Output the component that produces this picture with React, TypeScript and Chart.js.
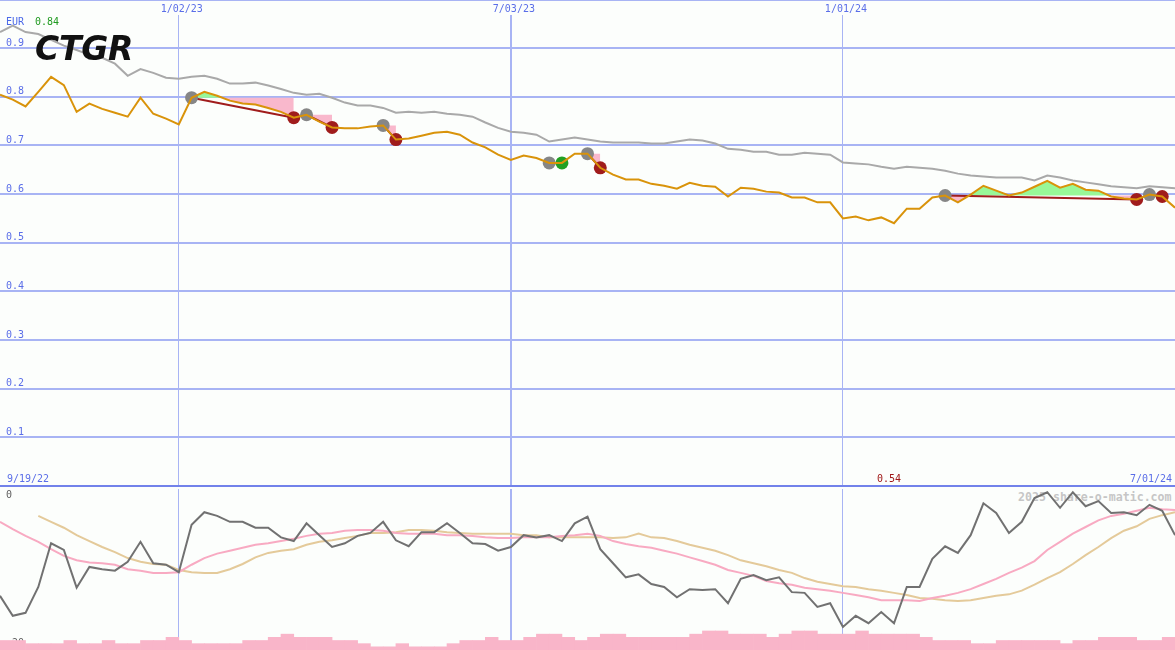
import React, { useEffect, useRef } from 'react';
import { Chart, registerables } from 'chart.js';

Chart.register(...registerables);

const MONO = "'DejaVu Sans Mono', monospace";
const BG = '#fcfefc';

// weekly points: week 1 = 26 Sep 2022 ... week 93 = 1 Jul 2024
const weekNumbers: number[] = Array.from({ length: 93 }, (_, i) => i + 1);

const priceEur = [
  0.804, 0.794, 0.780, 0.810, 0.841, 0.824, 0.769, 0.786, 0.775, 0.767,
  0.759, 0.798, 0.765, 0.755, 0.743, 0.798, 0.810, 0.802, 0.792, 0.786,
  0.784, 0.777, 0.769, 0.757, 0.763, 0.749, 0.737, 0.735, 0.735, 0.739,
  0.741, 0.712, 0.714, 0.720, 0.726, 0.728, 0.722, 0.706, 0.696, 0.681,
  0.670, 0.679, 0.674, 0.664, 0.664, 0.683, 0.683, 0.654, 0.640, 0.630,
  0.630, 0.621, 0.617, 0.611, 0.623, 0.617, 0.615, 0.595, 0.613, 0.611,
  0.605, 0.603, 0.593, 0.593, 0.583, 0.583, 0.550, 0.554, 0.546, 0.552,
  0.540, 0.570, 0.570, 0.593, 0.597, 0.583, 0.599, 0.617, 0.607, 0.597,
  0.603, 0.615, 0.627, 0.613, 0.621, 0.609, 0.607, 0.595, 0.591, 0.589,
  0.599, 0.595, 0.572,
];

const indexLine = [
  0.933, 0.946, 0.933, 0.929, 0.917, 0.905, 0.896, 0.886, 0.880, 0.868,
  0.843, 0.857, 0.849, 0.839, 0.837, 0.841, 0.843, 0.837, 0.827, 0.827,
  0.829, 0.823, 0.816, 0.808, 0.804, 0.806, 0.798, 0.788, 0.782, 0.782,
  0.777, 0.767, 0.769, 0.767, 0.769, 0.765, 0.763, 0.759, 0.747, 0.736,
  0.728, 0.726, 0.722, 0.708, 0.712, 0.716, 0.712, 0.708, 0.706, 0.706,
  0.706, 0.704, 0.704, 0.708, 0.712, 0.710, 0.704, 0.693, 0.691, 0.687,
  0.687, 0.681, 0.681, 0.685, 0.683, 0.681, 0.665, 0.663, 0.661, 0.656,
  0.652, 0.656, 0.654, 0.652, 0.648, 0.642, 0.638, 0.636, 0.634, 0.634,
  0.634, 0.628, 0.638, 0.634, 0.628, 0.624, 0.620, 0.616, 0.614, 0.612,
  0.616, 0.614, 0.612,
];

const momentum = [
  -14.3, -17.0, -16.6, -13.1, -7.2, -8.1, -13.2, -10.4, -10.7, -10.9,
  -9.7, -7.0, -9.9, -10.1, -11.1, -4.7, -3.0, -3.5, -4.3, -4.3,
  -5.1, -5.1, -6.4, -6.9, -4.5, -6.1, -7.7, -7.2, -6.2, -5.8,
  -4.3, -6.8, -7.6, -5.7, -5.7, -4.5, -5.8, -7.2, -7.3, -8.2,
  -7.7, -6.1, -6.4, -6.1, -6.9, -4.5, -3.6, -8.0, -9.9, -11.8,
  -11.4, -12.7, -13.1, -14.5, -13.4, -13.5, -13.4, -15.3, -12.0, -11.5,
  -12.2, -11.8, -13.8, -13.9, -15.8, -15.3, -18.5, -17.0, -18.0, -16.5,
  -18.0, -13.1, -13.1, -9.3, -7.6, -8.5, -6.1, -1.8, -3.1, -5.8,
  -4.3, -1.1, -0.3, -2.4, -0.3, -2.2, -1.5, -3.1, -3.0, -3.4,
  -2.0, -2.8, -6.1,
];

const momentumFast = [
  -4.3, -5.3, -6.2, -7.0, -8.0, -8.9, -9.5, -9.8, -9.9, -10.1,
  -10.7, -10.9, -11.2, -11.2, -11.1, -10.1, -9.2, -8.6, -8.2, -7.8,
  -7.4, -7.2, -6.9, -6.6, -6.2, -5.9, -5.8, -5.5, -5.4, -5.4,
  -5.5, -5.8, -5.9, -5.9, -5.9, -6.1, -6.1, -6.2, -6.4, -6.5,
  -6.5, -6.4, -6.4, -6.4, -6.2, -6.1, -5.9, -6.2, -6.9, -7.3,
  -7.6, -7.8, -8.2, -8.6, -9.1, -9.6, -10.1, -10.8, -11.2, -11.6,
  -12.3, -12.6, -12.8, -13.2, -13.4, -13.6, -13.9, -14.2, -14.5, -14.9,
  -14.9, -14.9, -15.0, -14.6, -14.3, -13.9, -13.4, -12.7, -12.0, -11.2,
  -10.5, -9.6, -8.1, -7.0, -5.9, -5.0, -4.1, -3.5, -3.2, -2.8,
  -2.4, -2.6, -2.7,
];

const momentumSlow = [
  null, null, null, -3.5, -4.3, -5.1, -6.1, -6.9, -7.7, -8.4,
  -9.2, -9.7, -10.0, -10.1, -10.8, -11.1, -11.2, -11.2, -10.7, -10.0,
  -9.1, -8.5, -8.2, -8.0, -7.4, -7.0, -6.8, -6.5, -6.2, -5.8,
  -5.8, -5.7, -5.4, -5.4, -5.5, -5.7, -5.8, -5.9, -5.9, -5.9,
  -5.9, -6.1, -6.1, -6.4, -6.4, -6.4, -6.4, -6.4, -6.5, -6.4,
  -5.9, -6.4, -6.5, -6.9, -7.4, -7.8, -8.2, -8.8, -9.5, -9.9,
  -10.3, -10.8, -11.2, -11.9, -12.4, -12.7, -13.0, -13.1, -13.4, -13.6,
  -13.9, -14.2, -14.6, -14.7, -14.9, -15.0, -14.9, -14.6, -14.3, -14.1,
  -13.6, -12.8, -11.9, -11.1, -10.0, -8.8, -7.7, -6.5, -5.5, -4.9,
  -3.9, -3.4, -3.0,
];

// relative volume per week interval (week k .. k+1), weeks 1..92
const volumeLevel = [
  3, 3, 2, 2, 2, 3, 2, 2, 3, 2,
  2, 3, 3, 4, 3, 2, 2, 2, 2, 3,
  3, 4, 5, 4, 4, 4, 3, 3, 2, 1,
  1, 2, 1, 1, 1, 2, 3, 3, 4, 3,
  3, 4, 5, 5, 4, 3, 4, 5, 5, 4,
  4, 4, 4, 4, 5, 6, 6, 5, 5, 5,
  4, 5, 6, 6, 5, 5, 5, 6, 5, 5,
  5, 5, 4, 3, 3, 3, 2, 2, 3, 3,
  3, 3, 3, 2, 3, 3, 4, 4, 4, 3,
  3, 4,
];

const tradeEntryWeeks = [16, 25, 31, 44, 47, 75, 91];
const tradeExitWeeks = [24, 27, 32, 45, 48, 90, 92];

const xTickWeeks = [15, 41, 67];
const xTickLabels = ['1/02/23', '7/03/23', '1/01/24'];
const priceTicks = [0, 0.1, 0.2, 0.3, 0.4, 0.5, 0.6, 0.7, 0.8, 0.9];
const momentumTicks = [0, -20];

const GRID = '#a8b4f4';
const PINK_FILL = '#f9b8cc';
const GREEN_FILL = '#98f898';
const LOSS = '#a01c1c';
const WIN = '#22a022';

const priceAt = (w: number) => priceEur[weekNumbers.indexOf(w)];
const vGridWidth = (c: any) => (c.tick && c.tick.value === 41 ? 2 : 1);

function topConfig(): any {
  const priceData = weekNumbers.map((w, i) => ({ x: w, y: priceEur[i] }));
  const indexData = weekNumbers.map((w, i) => ({ x: w, y: indexLine[i] }));
  const isWin = tradeEntryWeeks.map((e, i) => priceAt(tradeExitWeeks[i]) >= priceAt(e));

  const levelSets = tradeEntryWeeks.map((e, i) => {
    const x = tradeExitWeeks[i];
    const level = priceAt(e);
    return {
      label: 'level' + i,
      data: weekNumbers.filter((w) => w >= e && w <= x).map((w) => ({ x: w, y: level })),
      borderWidth: 0,
      borderColor: 'rgba(0,0,0,0)',
      pointRadius: 0,
      fill: { target: 0, above: PINK_FILL, below: GREEN_FILL },
      order: 6,
    };
  });
  const lineSets = tradeEntryWeeks.map((e, i) => ({
    label: 'trade' + i,
    data: [
      { x: e, y: priceAt(e) },
      { x: tradeExitWeeks[i], y: priceAt(tradeExitWeeks[i]) },
    ],
    borderColor: isWin[i] ? WIN : LOSS,
    borderWidth: 2,
    pointRadius: 0,
    fill: false,
    order: 5,
  }));

  return {
    type: 'line',
    data: {
      datasets: [
        {
          label: 'CTGR',
          data: priceData,
          borderColor: '#d9930a',
          borderWidth: 2,
          pointRadius: 0,
          fill: false,
          order: 0,
        },
        {
          label: 'index',
          data: indexData,
          borderColor: '#a9a9a9',
          borderWidth: 2,
          pointRadius: 0,
          fill: false,
          order: 1,
        },
        {
          label: 'exits',
          data: tradeExitWeeks.map((w) => ({ x: w, y: priceAt(w) })),
          showLine: false,
          pointRadius: 6.5,
          pointBorderWidth: 0,
          pointBackgroundColor: isWin.map((v) => (v ? WIN : LOSS)),
          fill: false,
          order: 2,
        },
        {
          label: 'entries',
          data: tradeEntryWeeks.map((w) => ({ x: w, y: priceAt(w) })),
          showLine: false,
          pointRadius: 6.5,
          pointBorderWidth: 0,
          pointBackgroundColor: '#868686',
          fill: false,
          order: 3,
        },
        ...lineSets,
        ...levelSets,
      ],
    },
    options: {
      animation: false,
      responsive: false,
      events: [],
      layout: { padding: { left: 0, right: 0, top: 0, bottom: 3 }, autoPadding: false },
      plugins: { legend: { display: false }, tooltip: { enabled: false } },
      scales: {
        x: {
          type: 'linear',
          position: 'top',
          min: 1,
          max: 93,
          offset: false,
          afterBuildTicks: (s: any) => {
            s.ticks = xTickWeeks.map((v) => ({ value: v }));
          },
          afterFit: (s: any) => {
            s.height = 15;
            s.paddingLeft = 0;
            s.paddingRight = 0;
          },
          ticks: {
            autoSkip: false,
            maxRotation: 0,
            minRotation: 0,
            padding: 0,
            labelOffset: 3,
            color: '#5a6ee8',
            font: { family: MONO, size: 10 },
            callback: (v: number) => {
              const i = xTickWeeks.indexOf(v);
              return i >= 0 ? xTickLabels[i] : '';
            },
          },
          grid: {
            offset: false,
            drawTicks: false,
            color: GRID,
            lineWidth: vGridWidth,
          },
          border: { display: false },
        },
        y: {
          type: 'linear',
          position: 'left',
          min: 0,
          max: 0.968,
          afterBuildTicks: (s: any) => {
            s.ticks = priceTicks.map((v) => ({ value: v }));
          },
          afterFit: (s: any) => {
            s.width = 0;
            s.paddingTop = 0;
            s.paddingBottom = 0;
          },
          ticks: {
            mirror: true,
            padding: 6,
            labelOffset: -5,
            autoSkip: false,
            color: '#5a6ee8',
            font: { family: MONO, size: 10 },
            callback: (v: number) => (v === 0 ? '' : v.toFixed(1)),
          },
          grid: {
            drawTicks: false,
            color: (c: any) => (c.tick && c.tick.value === 0 ? '#7282ea' : GRID),
            lineWidth: 2,
          },
          border: { display: false },
        },
      },
    },
  };
}

function bottomConfig(): any {
  return {
    type: 'line',
    data: {
      datasets: [
        {
          label: 'momentum',
          data: weekNumbers.map((w, i) => ({ x: w, y: momentum[i] })),
          borderColor: '#717171',
          borderWidth: 2,
          pointRadius: 0,
          fill: false,
          order: 0,
        },
        {
          label: 'fast',
          data: weekNumbers.map((w, i) => ({ x: w, y: momentumFast[i] })),
          borderColor: '#f8aac2',
          borderWidth: 2,
          pointRadius: 0,
          fill: false,
          order: 1,
        },
        {
          label: 'slow',
          data: weekNumbers.map((w, i) => ({ x: w, y: momentumSlow[i] })),
          borderColor: '#e4ca9a',
          borderWidth: 2,
          pointRadius: 0,
          fill: false,
          order: 2,
        },
        {
          type: 'bar',
          label: 'volume',
          data: volumeLevel.map((v, i) => ({ x: weekNumbers[i] + 0.5, y: v })),
          backgroundColor: '#f9b5c9',
          borderWidth: 0,
          barPercentage: 1,
          categoryPercentage: 1,
          grouped: false,
          yAxisID: 'yVol',
          order: 3,
        },
      ],
    },
    options: {
      animation: false,
      responsive: false,
      events: [],
      layout: { padding: 0, autoPadding: false },
      plugins: { legend: { display: false }, tooltip: { enabled: false } },
      scales: {
        x: {
          type: 'linear',
          position: 'bottom',
          min: 1,
          max: 93,
          offset: false,
          afterBuildTicks: (s: any) => {
            s.ticks = xTickWeeks.map((v) => ({ value: v }));
          },
          afterFit: (s: any) => {
            s.height = 0;
            s.paddingLeft = 0;
            s.paddingRight = 0;
          },
          ticks: { display: false },
          grid: {
            offset: false,
            drawTicks: false,
            color: GRID,
            lineWidth: vGridWidth,
          },
          border: { display: false },
        },
        y: {
          type: 'linear',
          position: 'left',
          min: -21.62,
          max: 0.135,
          z: 1,
          afterBuildTicks: (s: any) => {
            s.ticks = momentumTicks.map((v) => ({ value: v }));
          },
          afterFit: (s: any) => {
            s.width = 0;
            s.paddingTop = 0;
            s.paddingBottom = 0;
          },
          ticks: {
            mirror: true,
            padding: 6,
            labelOffset: 5,
            autoSkip: false,
            color: '#5e5e5e',
            font: { family: MONO, size: 10 },
          },
          grid: { display: false, drawTicks: false },
          border: { display: false },
        },
        yVol: {
          type: 'linear',
          display: false,
          min: 0,
          max: 50.8,
        },
      },
    },
  };
}

function Label(props: { x: number; y: number; color: string; text: string; font?: string; lh?: number }) {
  return (
    <div
      style={{
        position: 'absolute',
        left: props.x,
        top: props.y,
        color: props.color,
        font: props.font || `10px ${MONO}`,
        lineHeight: (props.lh || 10) + 'px',
        whiteSpace: 'pre',
      }}
    >
      {props.text}
    </div>
  );
}

export default function App() {
  const topRef = useRef<HTMLCanvasElement>(null);
  const bottomRef = useRef<HTMLCanvasElement>(null);

  useEffect(() => {
    const top = new Chart(topRef.current as HTMLCanvasElement, topConfig());
    const bottom = new Chart(bottomRef.current as HTMLCanvasElement, bottomConfig());
    return () => {
      top.destroy();
      bottom.destroy();
    };
  }, []);

  return (
    <div
      style={{
        position: 'fixed',
        left: 0,
        top: 0,
        width: 1175,
        height: 650,
        background: BG,
        overflow: 'hidden',
      }}
    >
      <Label x={1018} y={491} color="#c6c6c6" text="2025 share-o-matic.com" font={`bold 11.6px ${MONO}`} lh={12} />
      <canvas ref={topRef} width={1175} height={489} style={{ position: 'absolute', left: 0, top: 0 }} />
      <canvas ref={bottomRef} width={1175} height={161} style={{ position: 'absolute', left: 0, top: 489 }} />
      <div style={{ position: 'absolute', left: 0, top: 0, width: 1175, height: 1, background: GRID }} />
      <Label x={6} y={17} color="#4a68e8" text="EUR" />
      <Label x={35} y={17} color="#1f9a1f" text="0.84" />
      <div
        style={{
          position: 'absolute',
          left: 35,
          top: 32,
          font: "italic bold 33px 'DejaVu Sans', sans-serif",
          lineHeight: '33px',
          letterSpacing: '-0.3px',
          color: '#111111',
          whiteSpace: 'pre',
        }}
      >
        CTGR
      </div>
      <Label x={7} y={474} color="#5a6ee8" text="9/19/22" />
      <Label x={877} y={474} color="#a01818" text="0.54" />
      <Label x={1130} y={474} color="#5a6ee8" text="7/01/24" />
    </div>
  );
}
